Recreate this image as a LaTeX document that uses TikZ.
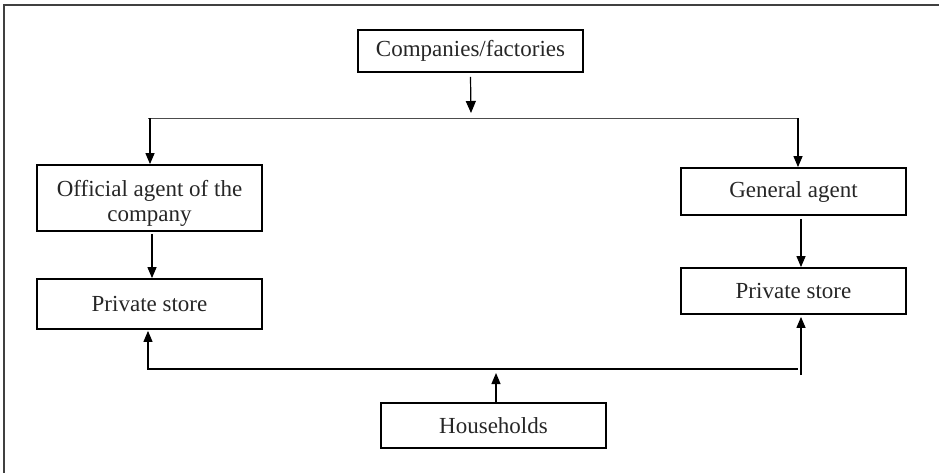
\documentclass[tikz,border=0pt]{standalone}
\usepackage{fontspec}
\setmainfont{Liberation Serif}
\usepackage{tikz}
\usetikzlibrary{arrows.meta}

\begin{document}
\begin{tikzpicture}[x=1pt,y=-1pt,
    box/.style={draw=black,line width=1.8pt,minimum width=225pt,inner sep=0pt,
        text=black!85,font=\fontsize{23}{25}\selectfont,align=center},
    link/.style={line width=1.2pt,-{Triangle[width=9pt,length=11pt]}},
    wire/.style={line width=1.2pt}]
    \clip (0,0) rectangle (939,472);
    \useasboundingbox (0,0) rectangle (939,472);
    \draw[line width=1.5pt,black!75] (4,5) rectangle (960,490);

    \coordinate (T1) at (148, 118);
    \coordinate (T2) at (798, 118);
    \coordinate (B1) at (148, 369);
    \coordinate (B2) at (801, 369);

    \node[box,minimum height=42pt] (comp) at (470.5, 51) {Companies/factories};
    \node[box,minimum height=66pt] (official) at (149.5, 198)
        {\rule{0pt}{26pt}Official agent of the\\company};
    \node[box,minimum height=47pt] (general) at (793.5, 191.5) {General agent};
    \node[box,minimum height=50pt] (storeL) at (149.5, 304) {Private store};
    \node[box,minimum height=46pt] (storeR) at (793.5, 291) {Private store};
    \node[box,minimum height=45pt] (house) at (493.5, 425.5) {Households};

    % from the companies down to both agents
    \draw[link,-{Triangle[width=10pt,length=12pt]}] ([yshift=-4pt]comp.south)
        -- ([xshift=0.5pt,yshift=5pt]comp.south |- T1);
    \draw[wire,line width=0.9pt,black!70] (T1) -- (T2);
    \draw[link] ([xshift=2pt]T1) -- ([xshift=0.5pt]official.north);
    \draw[link] (T2) -- ([xshift=4.5pt]general.north);
    \draw[link] ([xshift=2.5pt,yshift=-2pt]official.south) -- ([xshift=2.5pt]storeL.north);
    \draw[link] ([xshift=7.5pt,yshift=-3pt]general.south) -- ([xshift=7.5pt]storeR.north);

    % households up to both stores
    \draw[wire] (B1) -- ([xshift=-3pt]B2);
    \draw[link] ([yshift=-0.6pt]B1) -- ([xshift=-1.5pt,yshift=-1pt]storeL.south);
    \draw[link] ([yshift=-6pt]B2) -- ([xshift=7.5pt,yshift=-2pt]storeR.south);
    \draw[link] ([xshift=2.5pt]house.north) -- ([xshift=2.5pt,yshift=-4pt]house.north |- B1);
\end{tikzpicture}
\end{document}
